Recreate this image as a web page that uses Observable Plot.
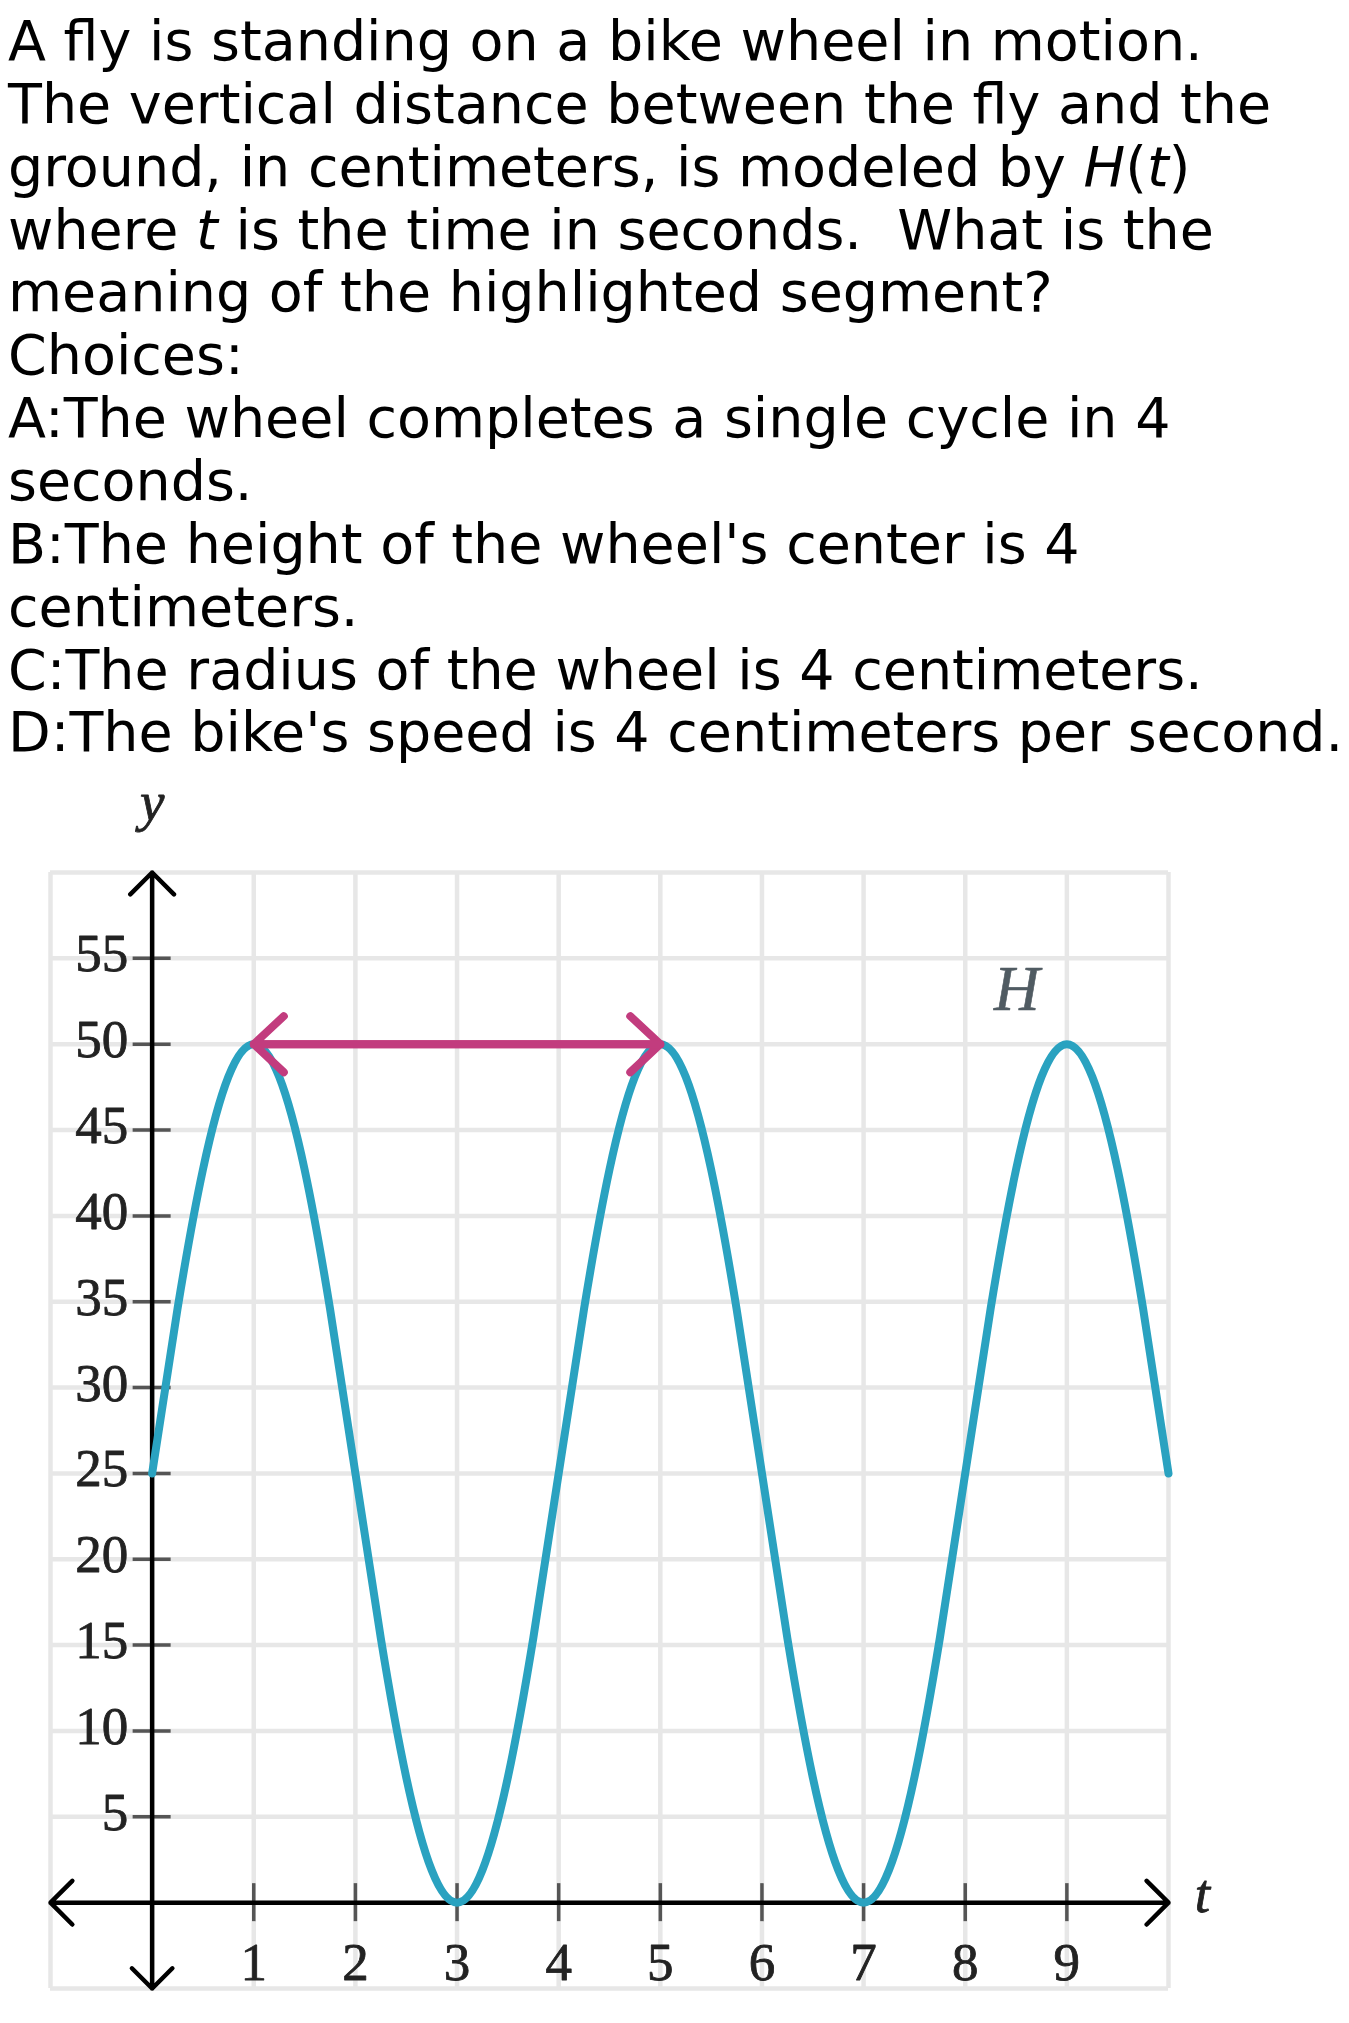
<!DOCTYPE html>
<html><head><meta charset="utf-8">
<script src="https://cdn.jsdelivr.net/npm/d3@7"></script>
<script src="https://cdn.jsdelivr.net/npm/@observablehq/plot@0.6"></script>
<style>
html,body{margin:0;padding:0;background:#fff;overflow:hidden}
#q{padding:10px 0 0 8px;font-family:"DejaVu Sans";font-size:55.5px;line-height:62.86px;height:754px;color:#000}
#q div{white-space:pre;height:62.86px}
#chart svg{display:block}
</style></head><body>
<div id="q">
<div>A fly is standing on a bike wheel in motion.</div>
<div>The vertical distance between the fly and the</div>
<div>ground, in centimeters, is modeled by <i>H</i>(<i>t</i>)</div>
<div>where <i>t</i> is the time in seconds.  What is the</div>
<div>meaning of the highlighted segment?</div>
<div>Choices:</div>
<div>A:The wheel completes a single cycle in 4</div>
<div>seconds.</div>
<div>B:The height of the wheel's center is 4</div>
<div>centimeters.</div>
<div>C:The radius of the wheel is 4 centimeters.</div>
<div>D:The bike's speed is 4 centimeters per second.</div>
</div>
<div id="chart"></div>
<script>
// ---- data ----
const xDomain = [-1, 10];
const yDomain = [-5, 60];
const gridT = [-1, 0, 1, 2, 3, 4, 5, 6, 7, 8, 9, 10];
const gridY = [-5, 0, 5, 10, 15, 20, 25, 30, 35, 40, 45, 50, 55, 60];
const tTicks = [1, 2, 3, 4, 5, 6, 7, 8, 9];
const yTicks = [5, 10, 15, 20, 25, 30, 35, 40, 45, 50, 55];
const times = [0, 0.25, 0.5, 0.75, 1, 1.25, 1.5, 1.75, 2, 2.25, 2.5, 2.75, 3, 3.25, 3.5, 3.75,
  4, 4.25, 4.5, 4.75, 5, 5.25, 5.5, 5.75, 6, 6.25, 6.5, 6.75, 7, 7.25, 7.5, 7.75,
  8, 8.25, 8.5, 8.75, 9, 9.25, 9.5, 9.75, 10];
const heights = [25, 34.6, 42.7, 48.1, 50, 48.1, 42.7, 34.6, 25, 15.4, 7.3, 1.9, 0, 1.9, 7.3, 15.4,
  25, 34.6, 42.7, 48.1, 50, 48.1, 42.7, 34.6, 25, 15.4, 7.3, 1.9, 0, 1.9, 7.3, 15.4,
  25, 34.6, 42.7, 48.1, 50, 48.1, 42.7, 34.6, 25];
const segStart = [1];
const segEnd = [5];
const segLevel = [50];
const curveName = "H";
const xName = "t";
const yName = "y";

// ---- build tables ----
const series = times.map((t, i) => ({t, h: heights[i]}));
const segment = segStart.map((s, i) => ({a: s, b: segEnd[i], h: segLevel[i]}));
const axisEnds = [
  {x: xDomain[0], y: 0}, {x: xDomain[1], y: 0},
  {x: 0, y: yDomain[0]}, {x: 0, y: yDomain[1]}
];
const peak = series.filter(d => d.t === 9);

const teal = "#2aa2c0";
const pink = "#c23c7e";
const serif = "Liberation Serif";

const chart = Plot.plot({
  width: 1349,
  height: 1251,
  marginLeft: 50,
  marginRight: 181,
  marginTop: 108,
  marginBottom: 27,
  x: {domain: xDomain, axis: null},
  y: {domain: yDomain, axis: null},
  style: {background: "#fff", overflow: "visible"},
  marks: [
    Plot.ruleX(gridT, {x: d => d, y1: yDomain[0], y2: yDomain[1], stroke: "#e7e7e7", strokeWidth: 4.5}),
    Plot.ruleY(gridY, {y: d => d, x1: xDomain[0], x2: xDomain[1], stroke: "#e7e7e7", strokeWidth: 4.5}),
    Plot.ruleX(tTicks, {x: d => d, y1: 0, y2: 0, insetTop: -19, insetBottom: -19, stroke: "#555", strokeWidth: 3.5}),
    Plot.ruleY(yTicks, {y: d => d, x1: 0, x2: 0, insetLeft: -19, insetRight: -19, stroke: "#555", strokeWidth: 3.5}),
    Plot.arrow(axisEnds, {x1: 0, y1: 0, x2: "x", y2: "y", stroke: "#000", strokeWidth: 4.5, headAngle: 90, headLength: 10.3}),
    Plot.line(series, {x: "t", y: "h", stroke: teal, strokeWidth: 8, curve: "natural"}),
    Plot.arrow(segment, {x1: "a", x2: "b", y1: "h", y2: "h", stroke: pink, strokeWidth: 8, headAngle: 86, headLength: 7.7}),
    Plot.arrow(segment, {x1: "b", x2: "a", y1: "h", y2: "h", stroke: pink, strokeWidth: 8, headAngle: 86, headLength: 7.7}),
    Plot.text(yTicks, {x: 0, y: d => d, text: d => String(d), textAnchor: "end", dx: -24, dy: -4, fontSize: 53, fontFamily: serif, fill: "#222", stroke: "#222", strokeWidth: 0.8}),
    Plot.text(tTicks, {x: d => d, y: 0, text: d => String(d), textAnchor: "middle", dy: 60, fontSize: 53, fontFamily: serif, fill: "#222", stroke: "#222", strokeWidth: 0.8}),
    Plot.text([yName], {x: 0, frameAnchor: "top", text: d => d, lineAnchor: "middle", textAnchor: "middle", dy: -70, fontSize: 55, fontStyle: "italic", fontFamily: serif, fill: "#222", stroke: "#222", strokeWidth: 0.8}),
    Plot.text([xName], {y: 0, frameAnchor: "right", text: d => d, lineAnchor: "middle", textAnchor: "middle", dx: 34, dy: -8, fontSize: 55, fontStyle: "italic", fontFamily: serif, fill: "#222", stroke: "#222", strokeWidth: 0.8}),
    Plot.text(peak, {x: "t", y: "h", text: () => curveName, dx: -50, dy: -54, fontSize: 63, fontStyle: "italic", fontFamily: serif, fill: "#505b62", stroke: "#505b62", strokeWidth: 0.6})
  ]
});
document.getElementById("chart").appendChild(chart);
</script>
</body></html>
